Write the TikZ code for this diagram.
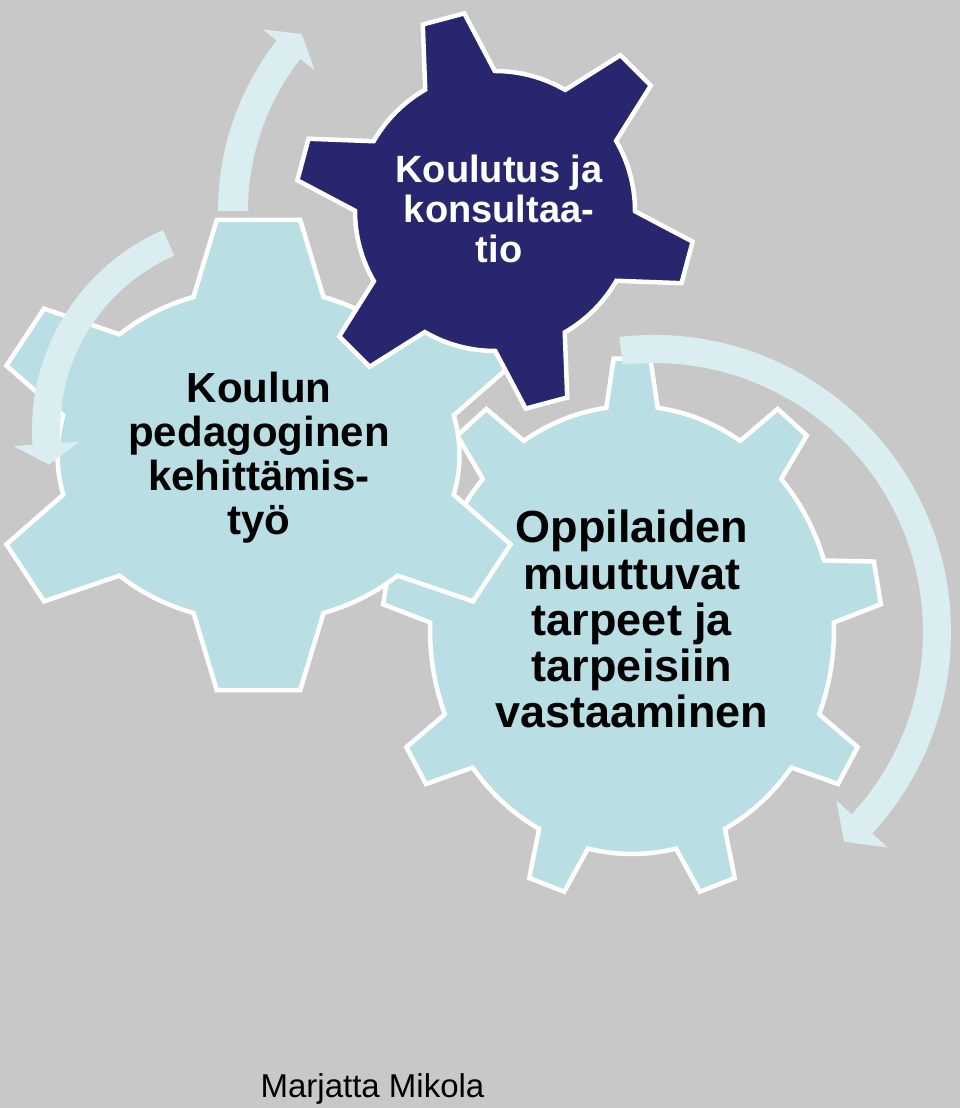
\documentclass[tikz,border=0pt]{standalone}
\usepackage{fontspec}
\setmainfont{Liberation Sans}
\definecolor{bgc}{HTML}{C8C8C8}
\definecolor{gearlight}{HTML}{B9DFE4}
\definecolor{geardark}{HTML}{28266F}
\definecolor{arrowc}{HTML}{DAEEF1}
\tikzset{
  gearshape/.style={draw=white, line width=4.5pt, line join=miter},
  arrowshape/.style={fill=arrowc, draw=none},
  geartext/.style={align=center, anchor=base, inner sep=0pt},
}
% [style]{center}{tip x radius}{tip y radius}{tooth height}{teeth}{phase}{tip half width}{base half width}
\newcommand\mygear[9][]{%
  \begin{scope}[shift={#2}]
  \pgfmathsetmacro\gRx{#3}
  \pgfmathsetmacro\gRy{#4}
  \pgfmathsetmacro\grx{#3-#5}
  \pgfmathsetmacro\gry{#4-#5}
  \pgfmathsetmacro\gth{#5}
  \pgfmathsetmacro\gpitch{360/#6}
  \pgfmathtruncatemacro\gn{#6-1}
  \pgfmathsetmacro\gph{#7}
  \pgfmathsetmacro\gwt{#8}
  \pgfmathsetmacro\gwb{#9}
  \pgfmathsetmacro\glr{100*sqrt((\gRx*cos(\gph)/100)^2+(\gRy*sin(\gph)/100)^2)}
  \pgfmathsetmacro\gsa{\gph - asin(\gwb/(\glr-\gth))}
  \path[#1] (\gsa:{\grx} and {\gry})
    \foreach \k [evaluate=\k as \ta using {\gph+\k*\gpitch},
                 evaluate=\k as \tb using {\gph+(\k+1)*\gpitch},
                 evaluate=\k as \lra using {100*sqrt((\gRx*cos(\ta)/100)^2+(\gRy*sin(\ta)/100)^2)},
                 evaluate=\k as \lrb using {100*sqrt((\gRx*cos(\tb)/100)^2+(\gRy*sin(\tb)/100)^2)},
                 evaluate=\k as \at using {asin(\gwt/\lra)},
                 evaluate=\k as \ab using {asin(\gwb/(\lra-\gth))},
                 evaluate=\k as \bb using {asin(\gwb/(\lrb-\gth))}] in {0,...,\gn}{
      -- ({\ta-\at}:{\gRx} and {\gRy}) -- ({\ta+\at}:{\gRx} and {\gRy})
      -- ({\ta+\ab}:{\grx} and {\gry})
      arc[start angle={\ta+\ab}, end angle={\tb-\bb}, x radius=\grx, y radius=\gry]
    } -- cycle;
  \end{scope}}
% {center}{mid radius}{half band}{start angle}{head base angle}{head half width}{tip angle}
\newcommand\myarrow[7]{%
  \begin{scope}[shift={#1}]
  \pgfmathsetmacro\aro{#2+#3}
  \pgfmathsetmacro\ari{#2-#3}
  \pgfmathsetmacro\abo{#2+#6}
  \pgfmathsetmacro\abi{#2-#6}
  \fill[arrowshape] (#4:\aro) arc[start angle=#4, end angle=#5, radius=\aro]
     -- (#5:\abo) -- (#7:#2) -- (#5:\abi) -- (#5:\ari)
     arc[start angle=#5, end angle=#4, radius=\ari] -- cycle;
  \end{scope}}
\begin{document}
\begin{tikzpicture}[x=1pt,y=1pt]
\fill[bgc] (0,0) rectangle (960,1108);
\useasboundingbox (0,0) rectangle (960,1108);
% gears
\mygear[gearshape, fill=gearlight]{(632,478)}{250}{272}{48}{9}{10}{20}{28.5}
\mygear[gearshape, fill=gearlight]{(258.5,653)}{272}{238}{71}{6}{30}{36.5}{54}
\mygear[gearshape, fill=geardark]{(495,897)}{200}{200}{60}{6}{45}{21.5}{36}
% arrows
\myarrow{(654,476)}{283}{14}{96.7}{-42.7}{35}{-47.8}
\myarrow{(250,678)}{204}{14}{113.5}{183.9}{33}{189.8}
\myarrow{(495,897)}{262}{15}{180}{142}{33}{137.5}
% texts (anchor = baseline of the last line)
\node[geartext, font={\fontsize{42}{44.3}\selectfont\bfseries}] (koulun) at (259,573)
  {Koulun\\pedagoginen\\kehittämis-\\työ};
\node[geartext, text=white, font={\fontsize{38}{40}\selectfont\bfseries}] (koulutus) at (499,845)
  {Koulutus ja\\konsultaa-\\tio};
\node[geartext, font={\fontsize{45}{46.3}\selectfont\bfseries}] (oppilaiden) at (632,380)
  {Oppilaiden\\muuttuvat\\tarpeet ja\\tarpeisiin\\vastaaminen};
\node[geartext, font={\fontsize{33}{36}\selectfont}] (author) at (372.5,10) {Marjatta Mikola};
\end{tikzpicture}
\end{document}
